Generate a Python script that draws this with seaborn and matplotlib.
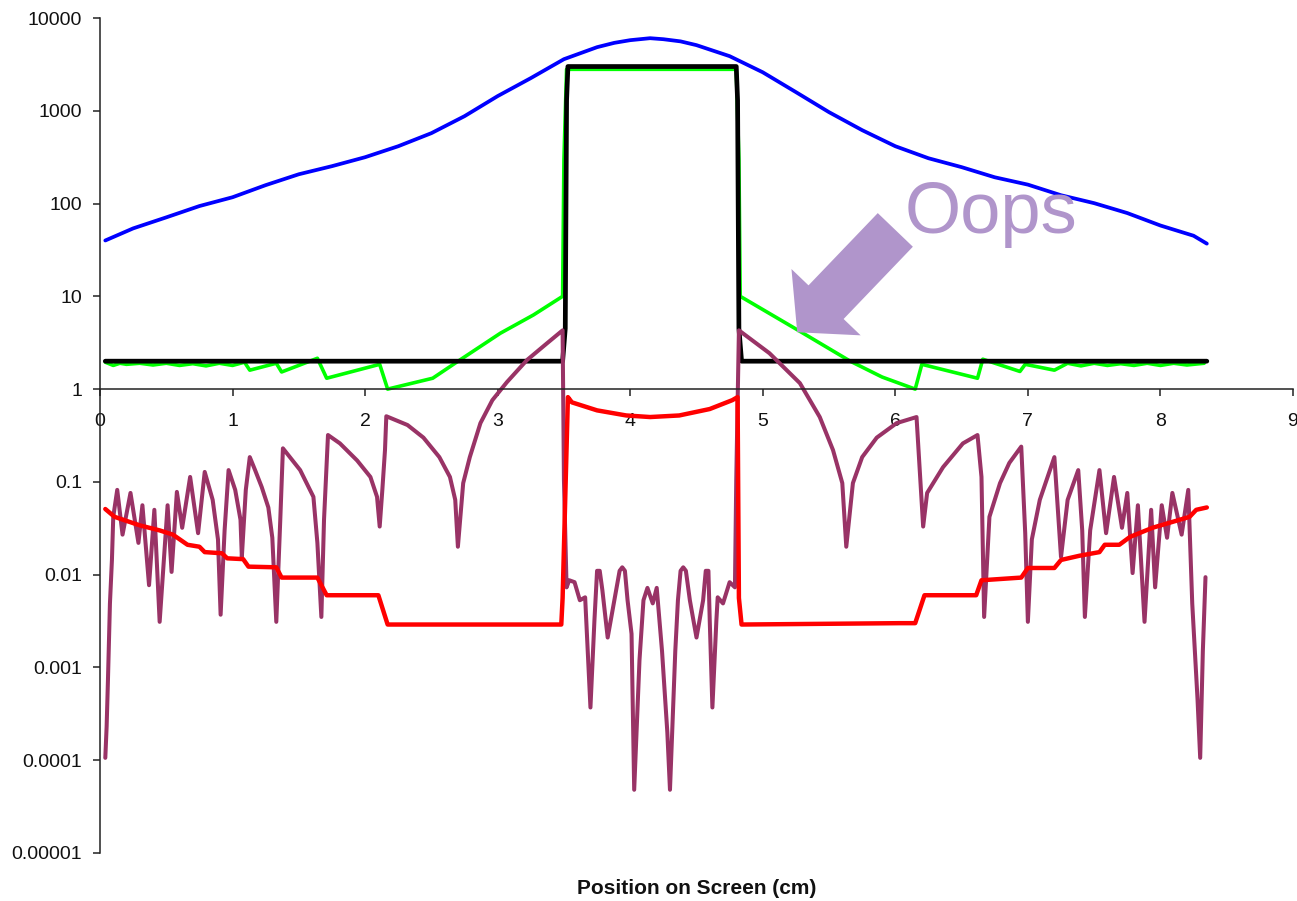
import matplotlib
matplotlib.use('Agg')  # Headless
import matplotlib.pyplot as plt
import matplotlib.ticker as mticker
import seaborn as sns

sns.set_theme(style="ticks")
plt.rcParams['font.family'] = ['Liberation Sans', 'DejaVu Sans']

# --- data (x in cm) ---
blue_x = [0.04, 0.25, 0.5, 0.75, 1.0, 1.25, 1.5, 1.75, 2.0, 2.25, 2.5, 2.75, 3.0, 3.25,
          3.5, 3.75, 3.88, 4.0, 4.15, 4.25, 4.38, 4.5, 4.75, 5.0, 5.25, 5.5, 5.75, 6.0,
          6.25, 6.5, 6.75, 7.0, 7.25, 7.5, 7.75, 8.0, 8.25, 8.35]
blue_y = [40, 54, 71, 94, 117, 158, 207, 253, 316, 415, 574, 875, 1440, 2250,
          3600, 4850, 5400, 5770, 6060, 5910, 5600, 5100, 3880, 2600, 1590, 966, 618, 415,
          308, 247, 192, 160, 123, 101, 79, 58, 45, 37]

black_x = [0.04, 3.49, 3.51, 3.52, 3.53, 4.80, 4.81, 4.82, 4.84, 8.35]
black_y = [2, 2, 4.5, 1300, 3000, 3000, 1300, 4.5, 2, 2]

green_x = [0.04, 0.1, 0.15, 0.2, 0.3, 0.4, 0.5, 0.6, 0.7, 0.8, 0.9, 1.0, 1.09, 1.13,
           1.33, 1.37, 1.64, 1.71, 2.11, 2.17, 2.51, 2.69, 3.02, 3.27, 3.49, 3.50, 3.52,
           4.80, 4.82, 4.83, 5.28, 5.66, 5.90, 6.15, 6.20, 6.62, 6.66, 6.94, 6.98, 7.20,
           7.30, 7.40, 7.50, 7.60, 7.70, 7.80, 7.90, 8.00, 8.10, 8.20, 8.33]
green_y = [1.95, 1.8, 1.9, 1.85, 1.9, 1.82, 1.9, 1.8, 1.88, 1.78, 1.9, 1.8, 1.95, 1.6,
           1.9, 1.53, 2.15, 1.31, 1.85, 1.0, 1.31, 1.95, 4.0, 6.3, 10, 300, 2800,
           2800, 300, 10, 4.2, 2.0, 1.35, 1.0, 1.85, 1.31, 2.1, 1.55, 1.85, 1.6,
           1.9, 1.78, 1.9, 1.8, 1.88, 1.8, 1.9, 1.8, 1.9, 1.82, 1.9]

red_x = [0.04, 0.11, 0.30, 0.45, 0.55, 0.66, 0.75, 0.79, 0.92, 0.96, 1.08, 1.12, 1.33,
         1.37, 1.64, 1.71, 2.10, 2.17, 3.48, 3.49, 3.53, 3.56, 3.75, 3.97, 4.15, 4.37,
         4.60, 4.77, 4.81, 4.82, 4.84, 6.03, 6.15, 6.22, 6.61, 6.65, 6.95, 7.00, 7.20,
         7.25, 7.39, 7.54, 7.58, 7.69, 7.77, 7.94, 8.22, 8.27, 8.35]
red_y = [0.051, 0.042, 0.034, 0.030, 0.027, 0.021, 0.020, 0.0175, 0.017, 0.015, 0.0147,
         0.0122, 0.012, 0.0093, 0.0093, 0.006, 0.006, 0.0029, 0.0029, 0.0056, 0.82, 0.72,
         0.59, 0.52, 0.50, 0.52, 0.61, 0.76, 0.82, 0.0056, 0.0029, 0.0030, 0.0030, 0.006,
         0.006, 0.0087, 0.0093, 0.0118, 0.0118, 0.0144, 0.016, 0.0175, 0.021, 0.021,
         0.0255, 0.032, 0.042, 0.050, 0.053]

purple_x = [0.04, 0.05, 0.06, 0.075, 0.09, 0.10, 0.13, 0.17, 0.23, 0.29, 0.32, 0.37, 0.41,
            0.45, 0.51, 0.54, 0.58, 0.62, 0.68, 0.74, 0.79, 0.85, 0.89, 0.91, 0.94, 0.97,
            1.02, 1.06, 1.07, 1.10, 1.13, 1.17, 1.22, 1.27, 1.30, 1.33, 1.36, 1.38, 1.51,
            1.61, 1.64, 1.67, 1.69, 1.72, 1.81, 1.94, 2.04, 2.09, 2.11, 2.13, 2.15, 2.16,
            2.32, 2.44, 2.56, 2.64, 2.68, 2.70, 2.74, 2.79, 2.87, 2.96, 3.07, 3.22, 3.37,
            3.49, 3.50, 3.52, 3.54, 3.58, 3.62, 3.66, 3.70, 3.73, 3.75, 3.77, 3.79, 3.83,
            3.88, 3.92, 3.94, 3.96, 3.98, 4.01, 4.03, 4.07, 4.10, 4.13, 4.17, 4.20, 4.24,
            4.28, 4.30, 4.34, 4.36, 4.38, 4.40, 4.42, 4.45, 4.50, 4.55, 4.57, 4.59, 4.60,
            4.62, 4.65, 4.66, 4.70, 4.75, 4.79, 4.80, 4.82, 5.05, 5.28, 5.43, 5.53, 5.60,
            5.63, 5.68, 5.75, 5.86, 6.01, 6.16, 6.18, 6.21, 6.24, 6.36, 6.51, 6.62, 6.65,
            6.67, 6.71, 6.79, 6.86, 6.95, 6.98, 7.00, 7.03, 7.09, 7.20, 7.25, 7.30, 7.38,
            7.41, 7.43, 7.47, 7.54, 7.59, 7.65, 7.71, 7.75, 7.79, 7.83, 7.88, 7.93, 7.96,
            8.01, 8.05, 8.09, 8.16, 8.21, 8.24, 8.28, 8.30, 8.32, 8.34]
purple_y = [0.000106, 0.00023, 0.00073, 0.0049, 0.0144, 0.042, 0.082, 0.027, 0.076, 0.022,
            0.056, 0.0077, 0.050, 0.0031, 0.056, 0.0107, 0.078, 0.032, 0.113, 0.028, 0.128,
            0.064, 0.024, 0.0037, 0.030, 0.134, 0.082, 0.039, 0.0155, 0.082, 0.185, 0.134,
            0.088, 0.053, 0.025, 0.0031, 0.039, 0.23, 0.134, 0.069, 0.022, 0.0035, 0.039,
            0.32, 0.26, 0.17, 0.113, 0.069, 0.033, 0.082, 0.22, 0.51, 0.41, 0.30, 0.185,
            0.113, 0.064, 0.020, 0.097, 0.185, 0.43, 0.76, 1.19, 2.05, 3.1, 4.3, 0.105,
            0.0073, 0.0087, 0.0083, 0.0053, 0.0057, 0.00037, 0.0032, 0.011, 0.011, 0.0068,
            0.0021, 0.0053, 0.011, 0.012, 0.011, 0.0053, 0.0023, 0.000048, 0.0012, 0.0053,
            0.0072, 0.0049, 0.0072, 0.0015, 0.00020, 0.000048, 0.0015, 0.0053, 0.011, 0.012,
            0.011, 0.0053, 0.0021, 0.0053, 0.011, 0.011, 0.0032, 0.00037, 0.0032, 0.0057,
            0.0049, 0.0083, 0.0073, 0.105, 4.3, 2.44, 1.16, 0.50, 0.22, 0.097, 0.020, 0.097,
            0.185, 0.30, 0.43, 0.50, 0.17, 0.033, 0.076, 0.144, 0.26, 0.32, 0.113, 0.0035,
            0.042, 0.097, 0.16, 0.24, 0.028, 0.0031, 0.024, 0.064, 0.185, 0.0155, 0.064,
            0.134, 0.030, 0.0035, 0.030, 0.134, 0.028, 0.113, 0.032, 0.076, 0.0104, 0.056,
            0.0031, 0.050, 0.0073, 0.056, 0.025, 0.076, 0.027, 0.082, 0.0049, 0.00045,
            0.000106, 0.0015, 0.0094]

x_ticks = [0, 1, 2, 3, 4, 5, 6, 7, 8, 9]
y_ticks = [1e4, 1e3, 1e2, 1e1, 1, 0.1, 0.01, 0.001, 0.0001, 0.00001]
y_tick_labels = ['10000', '1000', '100', '10', '1', '0.1', '0.01', '0.001', '0.0001', '0.00001']

oops_color = '#B095CB'

fig = plt.figure(figsize=(12.97, 9.01), dpi=100)
ax = fig.add_axes([0.0771, 0.0533, 0.9198, 0.9267])

# draw order: green under black, purple under red, blue on top
series = [
    (green_x, green_y, '#00FF00', 2.6),
    (black_x, black_y, '#000000', 3.4),
    (purple_x, purple_y, '#993366', 2.9),
    (red_x, red_y, '#FF0000', 3.2),
    (blue_x, blue_y, '#0000FF', 2.7),
]
for xs, ys, col, lw in series:
    sns.lineplot(x=xs, y=ys, ax=ax, color=col, linewidth=lw, sort=False, estimator=None)

ax.set_yscale('log')
ax.set_ylim(1e-5, 1e4)
ax.set_xlim(0, 9)
ax.set_yticks(y_ticks)
ax.set_yticklabels(y_tick_labels)
ax.yaxis.set_minor_locator(mticker.NullLocator())
ax.set_xticks(x_ticks)
ax.set_xticklabels([str(t) for t in x_ticks])
ax.set_xlabel('')
ax.set_ylabel('')

# x axis crosses at y = 1
ax.spines['bottom'].set_position(('data', 1))
ax.spines['top'].set_visible(False)
ax.spines['right'].set_visible(False)
for s in ('bottom', 'left'):
    ax.spines[s].set_color('#222222')
    ax.spines[s].set_linewidth(1.1)
ax.tick_params(axis='x', direction='out', length=5, width=1.1, pad=12, labelsize=14,
               colors='#222222', labelcolor='#111111')
ax.tick_params(axis='y', direction='out', length=5, width=1.1, pad=8, labelsize=14,
               colors='#222222', labelcolor='#111111')

fig.text(697 / 1297, 1 - 888 / 901, 'Position on Screen (cm)', ha='center', va='center',
         fontsize=15, fontweight='bold', color='#111111')

# the "Oops" callout
ax.text(6.07, 48, 'Oops', fontsize=52, color=oops_color, ha='left', va='baseline')
ax.annotate('', xy=(5.26, 4.1), xytext=(6.0, 52),
            arrowprops=dict(arrowstyle='simple,head_length=30,head_width=69,tail_width=35',
                            mutation_scale=1, color=oops_color, lw=0,
                            shrinkA=0, shrinkB=0))

plt.savefig('out.png', dpi=100)
plt.close()
